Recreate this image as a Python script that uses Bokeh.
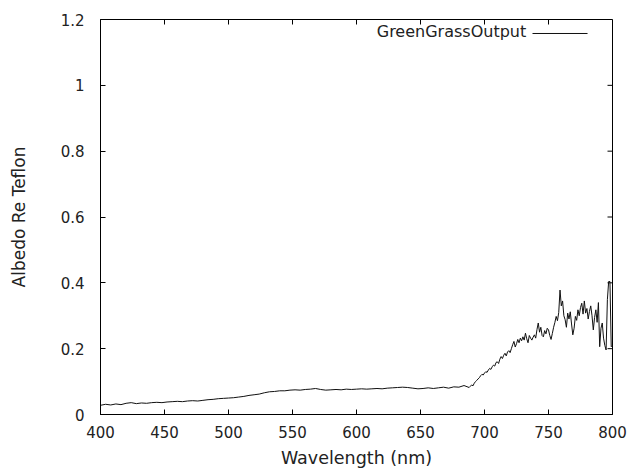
import numpy as np
from bokeh.plotting import figure
from bokeh.models import (FixedTicker, CustomJSTickFormatter, Range1d, Label, Arrow)
from bokeh.embed import file_html
from bokeh.resources import INLINE

# ---- data ----
# smooth part: 400..688 nm every 4 nm
wl_smooth = list(range(400, 689, 4))
albedo_smooth = [
    0.028, 0.031, 0.029, 0.032, 0.030, 0.034, 0.036, 0.033, 0.035, 0.034,
    0.036, 0.037, 0.036, 0.038, 0.039, 0.040, 0.039, 0.041, 0.042, 0.041,
    0.043, 0.045, 0.046, 0.048, 0.049, 0.050, 0.051, 0.053, 0.055, 0.058,
    0.060, 0.062, 0.066, 0.069, 0.070, 0.072, 0.072, 0.074, 0.075, 0.074,
    0.076, 0.077, 0.079, 0.076, 0.074, 0.075, 0.076, 0.075, 0.077, 0.076,
    0.077, 0.078, 0.077, 0.078, 0.079, 0.078, 0.080, 0.081, 0.082, 0.083,
    0.082, 0.080, 0.078, 0.079, 0.081, 0.079, 0.081, 0.083, 0.080, 0.084,
    0.083, 0.088, 0.082,
]
# noisy part: 689..800 nm every 1 nm
wl_noisy = list(range(689, 801))
albedo_noisy = [
    0.086, 0.090, 0.087, 0.095, 0.100, 0.104, 0.108, 0.112, 0.118, 0.122,
    0.120, 0.126, 0.130, 0.128, 0.135, 0.140, 0.137, 0.145, 0.150, 0.147,
    0.158, 0.160, 0.155, 0.168, 0.176, 0.170, 0.180, 0.186, 0.178, 0.190,
    0.194, 0.188, 0.200, 0.212, 0.222, 0.205, 0.215, 0.228, 0.218, 0.232,
    0.224, 0.236, 0.226, 0.247, 0.230, 0.218, 0.240, 0.232, 0.226, 0.235,
    0.242, 0.232, 0.258, 0.278, 0.250, 0.265, 0.240, 0.236, 0.255, 0.245,
    0.262, 0.257, 0.240, 0.228, 0.246, 0.265, 0.280, 0.298, 0.285, 0.310,
    0.378, 0.330, 0.345, 0.300, 0.288, 0.265, 0.308, 0.290, 0.312, 0.275,
    0.242, 0.262, 0.298, 0.286, 0.318, 0.300, 0.325, 0.338, 0.305, 0.345,
    0.308, 0.322, 0.290, 0.313, 0.330, 0.300, 0.257, 0.295, 0.318, 0.280,
    0.340, 0.206, 0.262, 0.278, 0.232, 0.210, 0.196, 0.349, 0.404, 0.404,
    0.206, 0.210,
]
wavelength = wl_smooth + wl_noisy
albedo = albedo_smooth + albedo_noisy

x_ticks = [400, 450, 500, 550, 600, 650, 700, 750, 800]
y_ticks = [0, 0.2, 0.4, 0.6, 0.8, 1.0, 1.2]
series_name = "GreenGrassOutput"
x_title = "Wavelength (nm)"
y_title = "Albedo Re Teflon"

X_MIN, X_MAX = 400, 800
Y_MIN, Y_MAX = 0, 1.2

FONT = "DejaVu Sans"
TXT = "#222222"

p = figure(width=630, height=474, output_backend="svg", toolbar_location=None,
           x_range=Range1d(X_MIN, X_MAX), y_range=Range1d(Y_MIN, Y_MAX),
           min_border_left=100, min_border_right=18, min_border_top=19,
           min_border_bottom=60, x_axis_label=x_title, y_axis_label=y_title)
p.background_fill_color = "white"
p.border_fill_color = "white"
p.outline_line_color = "black"
p.outline_line_width = 1
p.xgrid.visible = False
p.ygrid.visible = False

fmt = CustomJSTickFormatter(code="return Number(tick.toFixed(2)).toString();")

for ax, ticks in ((p.xaxis[0], x_ticks), (p.yaxis[0], y_ticks)):
    ax.ticker = FixedTicker(ticks=ticks)
    ax.formatter = fmt
    ax.major_tick_in = 5
    ax.major_tick_out = 0
    ax.minor_tick_in = 0
    ax.minor_tick_out = 0
    ax.axis_line_color = "black"
    ax.major_tick_line_color = "black"
    ax.major_label_text_font = FONT
    ax.major_label_text_font_size = "15px"
    ax.major_label_text_color = TXT
    ax.axis_label_text_font = FONT
    ax.axis_label_text_font_style = "normal"
    ax.axis_label_text_color = TXT

p.xaxis[0].axis_label_text_font_size = "17.5px"
p.yaxis[0].axis_label_text_font_size = "17px"
p.xaxis[0].major_label_standoff = 11
p.xaxis[0].axis_label_standoff = 7
p.yaxis[0].major_label_standoff = 16
p.yaxis[0].axis_label_standoff = 29

# mirrored ticks (gnuplot style) on the top and right borders
p.ray(x=x_ticks, y=[Y_MAX] * len(x_ticks), length=5, length_units="screen",
      angle=-np.pi / 2, line_color="black", line_width=1)
p.ray(x=[X_MAX] * len(y_ticks), y=y_ticks, length=5, length_units="screen",
      angle=np.pi, line_color="black", line_width=1)

p.line(wavelength, albedo, line_color="#111111", line_width=1)

# gnuplot-style key: title then line sample
p.add_layout(Label(x=732.6, y=1.1645, text=series_name, text_align="right",
                   text_baseline="middle", text_font=FONT, text_font_size="16px",
                   text_color=TXT))
p.add_layout(Arrow(end=None, x_start=737.5, y_start=1.1575, x_end=780.5,
                   y_end=1.1575, line_color="#111111", line_width=1))

open("out.html", "w").write(file_html(p, INLINE))
